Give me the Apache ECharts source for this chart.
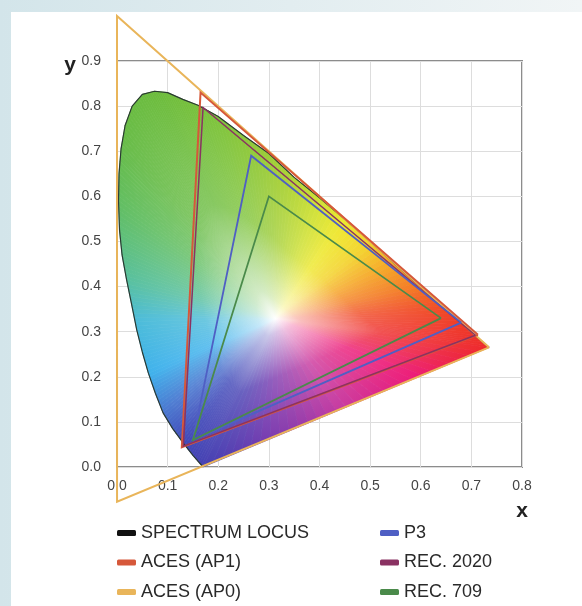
<!DOCTYPE html>
<html>
<head>
<meta charset="utf-8">
<script src="https://cdn.jsdelivr.net/npm/echarts@6/dist/echarts.min.js"></script>
<style>
html, body { margin: 0; padding: 0; }
#wrap { position: relative; width: 582px; height: 606px; overflow: hidden;
  background: linear-gradient(90deg, #d3e5ea 0%, #e2edf0 50%, #f1f5f6 100%); }
#panel { position: absolute; left: 11px; top: 12px; right: 0; bottom: 0; background: #fff; }
#main { position: absolute; left: 0; top: 0; width: 582px; height: 606px; }
</style>
</head>
<body>
<div id="wrap"><div id="panel"></div><div id="main"></div></div>
<script>
// spectrum locus, from the blue end round to the red end
var locusX = [0.170, 0.150, 0.131, 0.110, 0.091, 0.076, 0.062, 0.050, 0.039, 0.029,
              0.019, 0.010, 0.005, 0.003, 0.004, 0.008, 0.016, 0.030, 0.050, 0.074,
              0.100, 0.130, 0.160, 0.200, 0.250, 0.300, 0.350, 0.400, 0.450, 0.500,
              0.550, 0.600, 0.650, 0.700, 0.735];
var locusY = [0.000, 0.026, 0.053, 0.085, 0.120, 0.163, 0.208, 0.255, 0.304, 0.360,
              0.415, 0.470, 0.525, 0.590, 0.650, 0.705, 0.757, 0.800, 0.826, 0.833,
              0.830, 0.815, 0.802, 0.777, 0.735, 0.695, 0.642, 0.597, 0.549, 0.500,
              0.449, 0.399, 0.349, 0.299, 0.265];
var whitePoint = [0.3127, 0.329];

// gamut primaries (R, G, B)
var ap0X = [0.7347, 0.0000, 0.0001],  ap0Y = [0.2653, 1.0000, -0.0770];
var ap1X = [0.713, 0.165, 0.128],     ap1Y = [0.293, 0.830, 0.044];
var rec2020X = [0.708, 0.170, 0.131], rec2020Y = [0.292, 0.797, 0.046];
var p3X = [0.680, 0.265, 0.150],      p3Y = [0.320, 0.690, 0.060];
var rec709X = [0.640, 0.300, 0.150],  rec709Y = [0.330, 0.600, 0.060];

var xTicks = [0, 0.8, 0.1];
var yTicks = [0, 0.9, 0.1];

// colour round the white point, by angle in degrees
var hueStops = [
  [-180, '#4cbcd8'], [-154, '#40b2ec'], [-137, '#4a78d0'], [-123, '#4048b8'],
  [-113, '#4640b2'], [-93, '#7a3cb0'], [-56, '#c83aa0'], [-25, '#ec1c78'],
  [-8.6, '#ee2a2a'], [3.6, '#f04a25'], [14, '#f37a22'], [27, '#f5a623'],
  [42, '#f3d42a'], [58, '#eee82e'], [72, '#cfe034'], [92, '#9ccc38'],
  [104, '#80c43c'], [115, '#6cbc3c'], [127, '#68bc48'], [140, '#62be62'],
  [164, '#58c0a0'], [180, '#4cbcd8']
];

function hex(c) {
  return [parseInt(c.substr(1, 2), 16), parseInt(c.substr(3, 2), 16), parseInt(c.substr(5, 2), 16)];
}
function rgb(a) {
  return 'rgb(' + Math.round(a[0]) + ',' + Math.round(a[1]) + ',' + Math.round(a[2]) + ')';
}
function hueColor(deg) {
  for (var i = 0; i < hueStops.length - 1; i++) {
    var s0 = hueStops[i], s1 = hueStops[i + 1];
    if (deg >= s0[0] && deg <= s1[0]) {
      var t = (deg - s0[0]) / (s1[0] - s0[0]);
      var a = hex(s0[1]), b = hex(s1[1]);
      return [a[0] + (b[0] - a[0]) * t, a[1] + (b[1] - a[1]) * t, a[2] + (b[2] - a[2]) * t];
    }
  }
  return hex(hueStops[0][1]);
}
function toWhite(c, w) {
  return rgb([c[0] + (255 - c[0]) * w, c[1] + (255 - c[1]) * w, c[2] + (255 - c[2]) * w]);
}

function pairs(xs, ys) {
  return xs.map(function (x, i) { return [x, ys[i]]; });
}
function closed(xs, ys) {
  var pts = pairs(xs, ys);
  pts.push(pts[0]);
  return pts;
}

function renderLocusFill(params, api) {
  var n = locusX.length;
  var i = params.dataIndex, j = (i + 1) % n;
  var ax = locusX[i], ay = locusY[i], bx = locusX[j], by = locusY[j];
  var steps = i === n - 1 ? 30 : 6;
  var pw = api.coord(whitePoint);
  var children = [];
  for (var k = 0; k < steps; k++) {
    var t0 = k / steps, t1 = (k + 1) / steps;
    var p0 = [ax + (bx - ax) * t0, ay + (by - ay) * t0];
    var p1 = [ax + (bx - ax) * t1, ay + (by - ay) * t1];
    var m = [(p0[0] + p1[0]) / 2, (p0[1] + p1[1]) / 2];
    var c = hueColor(Math.atan2(m[1] - whitePoint[1], m[0] - whitePoint[0]) * 180 / Math.PI);
    var pm = api.coord(m);
    var grad = new echarts.graphic.LinearGradient(pw[0], pw[1], pm[0], pm[1], [
      { offset: 0, color: '#ffffff' },
      { offset: 0.12, color: toWhite(c, 0.7) },
      { offset: 0.5, color: toWhite(c, 0.18) },
      { offset: 1, color: rgb(c) }
    ], true);
    children.push({
      type: 'polygon',
      shape: { points: [pw, api.coord(p0), api.coord(p1)] },
      style: { fill: grad, stroke: grad, lineWidth: 0.8 }
    });
  }
  return { type: 'group', children: children };
}

function gamut(name, xs, ys, color, width) {
  return {
    name: name, type: 'line', data: closed(xs, ys),
    symbol: 'none', clip: false, silent: true, z: 5,
    itemStyle: { color: color },
    lineStyle: { color: color, width: width, join: 'miter' }
  };
}

var chart = echarts.init(document.getElementById('main'), null, { renderer: 'canvas' });
var font = '"Liberation Sans", Arial, sans-serif';
var legendText = { fontSize: 18, lineHeight: 20, color: '#2a2a2a', fontFamily: font };

chart.setOption({
  animation: false,
  backgroundColor: 'transparent',
  grid: {
    left: 117, right: 60, top: 61, bottom: 139,
    show: true, borderColor: '#8c8c8c', borderWidth: 2,
    outerBoundsMode: 'none'
  },
  xAxis: {
    type: 'value', min: xTicks[0], max: xTicks[1], interval: xTicks[2],
    name: 'x', nameLocation: 'end', nameGap: 0, nameMoveOverlap: false,
    nameTextStyle: { fontSize: 21, fontWeight: 'bold', color: '#222', fontFamily: font,
      align: 'center', verticalAlign: 'top', padding: [34, 0, 0, 0] },
    axisLine: { show: false }, axisTick: { show: false },
    axisLabel: { margin: 12, fontSize: 14, color: '#444', fontFamily: font,
      formatter: function (v) { return v.toFixed(1); } },
    splitLine: { lineStyle: { color: '#dddddd', width: 1 } }
  },
  yAxis: {
    type: 'value', min: yTicks[0], max: yTicks[1], interval: yTicks[2],
    name: 'y', nameLocation: 'end', nameGap: -4, nameMoveOverlap: false,
    nameTextStyle: { fontSize: 21, fontWeight: 'bold', color: '#222', fontFamily: font,
      align: 'right', verticalAlign: 'middle', padding: [0, 41, 0, 0] },
    axisLine: { show: false }, axisTick: { show: false },
    axisLabel: { margin: 16, fontSize: 14, color: '#444', fontFamily: font,
      formatter: function (v) { return v.toFixed(1); } },
    splitLine: { lineStyle: { color: '#dddddd', width: 1 } }
  },
  legend: [
    { data: ['SPECTRUM LOCUS', 'ACES (AP1)', 'ACES (AP0)'], orient: 'vertical',
      left: 117, top: 523, height: 100, padding: 0, itemWidth: 19, itemHeight: 6, itemGap: 9.5,
      icon: 'roundRect', selectedMode: false, textStyle: legendText },
    { data: ['P3', 'REC. 2020', 'REC. 709'], orient: 'vertical',
      left: 380, top: 523, height: 100, padding: 0, itemWidth: 19, itemHeight: 6, itemGap: 9.5,
      icon: 'roundRect', selectedMode: false, textStyle: legendText }
  ],
  series: [
    {
      type: 'custom', silent: true, z: 2,
      data: pairs(locusX, locusY),
      encode: { x: 0, y: 1 },
      renderItem: renderLocusFill
    },
    {
      name: 'SPECTRUM LOCUS', type: 'line', data: pairs(locusX, locusY),
      symbol: 'none', silent: true, z: 4,
      itemStyle: { color: '#111111' },
      lineStyle: { color: '#2b3a33', width: 1.2 }
    },
    gamut('ACES (AP0)', ap0X, ap0Y, '#e9b55a', 2),
    gamut('ACES (AP1)', ap1X, ap1Y, '#d6583a', 2),
    gamut('REC. 2020', rec2020X, rec2020Y, '#8a3262', 1.5),
    gamut('P3', p3X, p3Y, '#4f5fc4', 1.8),
    gamut('REC. 709', rec709X, rec709Y, '#4a8a4a', 1.8)
  ]
});
</script>
</body>
</html>
